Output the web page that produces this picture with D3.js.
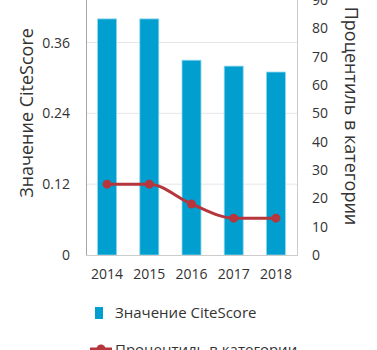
<!DOCTYPE html>
<html>
<head>
<meta charset="utf-8">
<script src="https://cdn.jsdelivr.net/npm/d3@7"></script>
<style>
  body { margin: 0; background: #fff; }
  text { font-family: "Open Sans", sans-serif; fill: #333; }
</style>
</head>
<body>
<div id="chart"></div>
<script>
var years = ["2014", "2015", "2016", "2017", "2018"];
var citeScore = [0.40, 0.40, 0.33, 0.32, 0.31];
var percentile = [25, 25, 18, 13, 13];
var leftTicks = [0, 0.12, 0.24, 0.36];
var rightTicks = [0, 10, 20, 30, 40, 50, 60, 70, 80, 90];

function init(){

var w = 377;
var h = 350;
var left = 86, right = 297, top = 0, bottom = 255;

var svg = d3.select("#chart")
            .append("svg")
            .attr("width", w)
            .attr("height", h);

var x = d3.scaleBand()
          .domain(years)
          .range([left, right])
          .paddingInner(0.55)
          .paddingOuter(0.275);

var yLeft = d3.scaleLinear().domain([0, 0.432]).range([bottom, top]);
var yRight = d3.scaleLinear().domain([0, 90]).range([bottom, top]);

// grid lines
svg.selectAll("line.grid")
   .data(leftTicks.slice(1))
   .enter()
   .append("line")
   .attr("x1", left).attr("x2", right)
   .attr("y1", function(d){ return yLeft(d); })
   .attr("y2", function(d){ return yLeft(d); })
   .attr("stroke", "#e6e6e6")
   .attr("stroke-width", 1);

// bars
svg.selectAll("rect.bar")
   .data(citeScore)
   .enter()
   .append("rect")
   .attr("class", "bar")
   .attr("x", function(d, i){ return x(years[i]); })
   .attr("y", function(d){ return yLeft(d); })
   .attr("width", x.bandwidth())
   .attr("height", function(d){ return bottom - yLeft(d); })
   .attr("fill", "#009fd0")
   .attr("stroke", "#8fd6ee")
   .attr("stroke-width", 0.8);

// frame
svg.append("line").attr("x1", left + 0.5).attr("x2", left + 0.5).attr("y1", top).attr("y2", bottom + 1)
   .attr("stroke", "#a6a6a6");
svg.append("line").attr("x1", right + 0.5).attr("x2", right + 0.5).attr("y1", top).attr("y2", bottom + 1)
   .attr("stroke", "#cccccc");
svg.append("line").attr("x1", left).attr("x2", right + 1).attr("y1", bottom + 0.5).attr("y2", bottom + 0.5)
   .attr("stroke", "#cccccc");

// left axis labels
svg.selectAll("text.yl")
   .data(leftTicks)
   .enter()
   .append("text")
   .attr("x", 70)
   .attr("y", function(d){ return yLeft(d) + 5; })
   .attr("text-anchor", "end")
   .style("font-size", "14px")
   .text(function(d){ return d === 0 ? "0" : d3.format(".2f")(d); });

// right axis labels
svg.selectAll("text.yr")
   .data(rightTicks)
   .enter()
   .append("text")
   .attr("x", 312)
   .attr("y", function(d){ return yRight(d) + 5; })
   .attr("text-anchor", "start")
   .style("font-size", "14px")
   .text(function(d){ return d; });

// x labels
svg.selectAll("text.xl")
   .data(years)
   .enter()
   .append("text")
   .attr("x", function(d){ return x(d) + x.bandwidth() / 2; })
   .attr("y", 279)
   .attr("text-anchor", "middle")
   .style("font-size", "14px")
   .text(function(d){ return d; });

// axis titles
svg.append("text")
   .attr("transform", "translate(33,113) rotate(-90)")
   .attr("text-anchor", "middle")
   .style("font-size", "18px")
   .text("Значение CiteScore");

svg.append("text")
   .attr("transform", "translate(345,116) rotate(90)")
   .attr("text-anchor", "middle")
   .style("font-size", "18px")
   .text("Процентиль в категории");

// percentile line
var line = d3.line()
             .x(function(d, i){ return x(years[i]) + x.bandwidth() / 2; })
             .y(function(d){ return yRight(d); })
             .curve(d3.curveMonotoneX);

svg.append("path")
   .datum(percentile)
   .attr("d", line)
   .attr("fill", "none")
   .attr("stroke", "#b5373d")
   .attr("stroke-width", 3);

svg.selectAll("circle.pt")
   .data(percentile)
   .enter()
   .append("circle")
   .attr("cx", function(d, i){ return x(years[i]) + x.bandwidth() / 2; })
   .attr("cy", function(d){ return yRight(d); })
   .attr("r", 4.5)
   .attr("fill", "#b5373d");

// legend
svg.append("rect")
   .attr("x", 95).attr("y", 307)
   .attr("width", 8).attr("height", 12)
   .attr("fill", "#009fd0");
svg.append("text")
   .attr("x", 115).attr("y", 318)
   .style("font-size", "15px")
   .text("Значение CiteScore");

svg.append("line")
   .attr("x1", 90).attr("x2", 112)
   .attr("y1", 349).attr("y2", 349)
   .attr("stroke", "#b5373d").attr("stroke-width", 3);
svg.append("circle")
   .attr("cx", 101).attr("cy", 349).attr("r", 4.5)
   .attr("fill", "#b5373d");
svg.append("text")
   .attr("x", 115).attr("y", 355)
   .style("font-size", "15px")
   .text("Процентиль в категории");
}
window.onload = init;
</script>
</body>
</html>
